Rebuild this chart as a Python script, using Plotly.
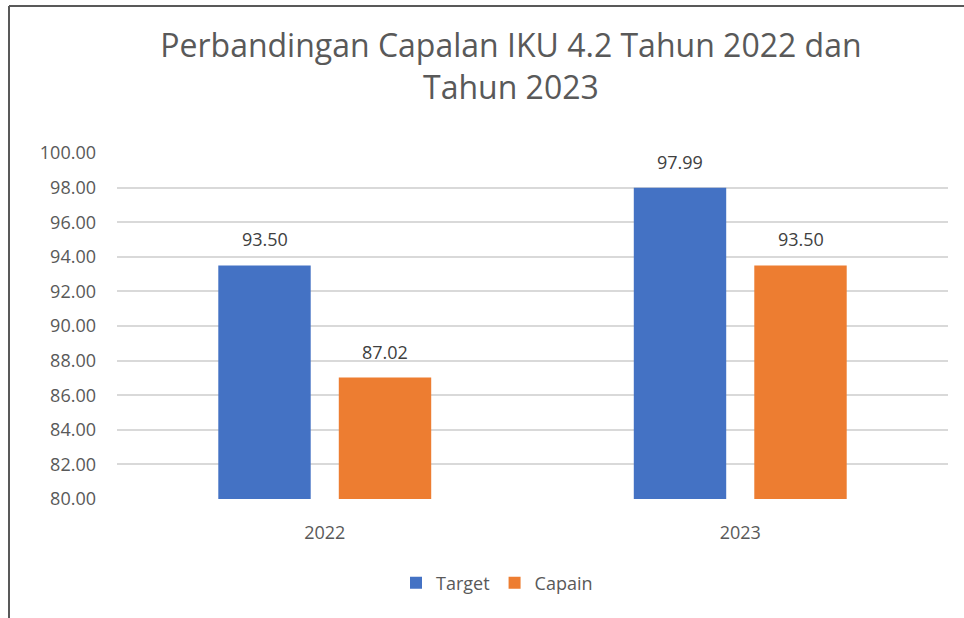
import plotly.graph_objects as go

categories = ["2022", "2023"]
target = [93.50, 97.99]
capain = [87.02, 93.50]
series_names = ["Target", "Capain"]
title_text = "Perbandingan Capalan IKU 4.2 Tahun 2022 dan<br>Tahun 2023"

W, H = 964, 618
L, R, T, B = 117, 16, 153, 119
pw, ph = W - L - R, H - T - B

font_fam = "Open Sans, Noto Sans, sans-serif"
grey = "#595959"
BARGAP = 0.42
GROUPGAP = 0.233

fig = go.Figure()
series = [(series_names[0], target, "#4472C4"), (series_names[1], capain, "#ED7D31")]
for name, vals, col in series:
    fig.add_trace(go.Bar(
        x=categories, y=vals, name=name,
        marker=dict(color=col, line=dict(width=0)),
        cliponaxis=False,
    ))

# data labels centred over each bar, offset by the group layout
slot = (1 - BARGAP) / 2
annotations = []
for k, (name, vals, col) in enumerate(series):
    off = (k - 0.5) * slot
    for i, v in enumerate(vals):
        annotations.append(dict(
            x=i + off, y=v, xref="x", yref="y", text=f"{v:.2f}", showarrow=False,
            yanchor="middle", yshift=26,
            font=dict(size=18, color="#404040", family=font_fam),
        ))

def px_x(p):
    return (p - L) / pw

def px_y(p):
    return (H - B - p) / ph

fig.update_layout(
    width=W, height=H,
    margin=dict(l=L, r=R, t=T, b=B, autoexpand=False),
    paper_bgcolor="white", plot_bgcolor="white",
    barmode="group", bargap=BARGAP, bargroupgap=GROUPGAP,
    title=dict(text=title_text, x=0.53, xref="container", xanchor="center",
               y=1 - 57 / H, yref="container", yanchor="top",
               font=dict(size=32, color=grey, family=font_fam)),
    font=dict(family=font_fam, color=grey),
    showlegend=True,
    legend=dict(orientation="h", x=px_x(497), xanchor="center",
                y=px_y(583), yanchor="middle", itemwidth=30,
                font=dict(size=18, color=grey), traceorder="normal"),
    yaxis=dict(range=[80, 100], dtick=2, tickformat=".2f", showgrid=True,
               gridcolor="#D9D9D9", gridwidth=1.5, zeroline=False, showline=False,
               tickfont=dict(size=18, color=grey), ticklabelstandoff=20),
    xaxis=dict(showgrid=False, showline=False, tickfont=dict(size=18, color=grey),
               ticklabelstandoff=21),
    annotations=annotations,
    shapes=[
        dict(type="line", xref="paper", yref="paper", x0=px_x(9), x1=px_x(W + 5),
             y0=px_y(6), y1=px_y(6), line=dict(color="#595959", width=2)),
        dict(type="line", xref="paper", yref="paper", x0=px_x(9), x1=px_x(9),
             y0=px_y(6), y1=px_y(H + 5), line=dict(color="#595959", width=2)),
    ],
)

fig.write_html("out.html", config={"displayModeBar": False},
               post_script="document.body.style.margin='0';document.body.style.overflow='hidden';")
